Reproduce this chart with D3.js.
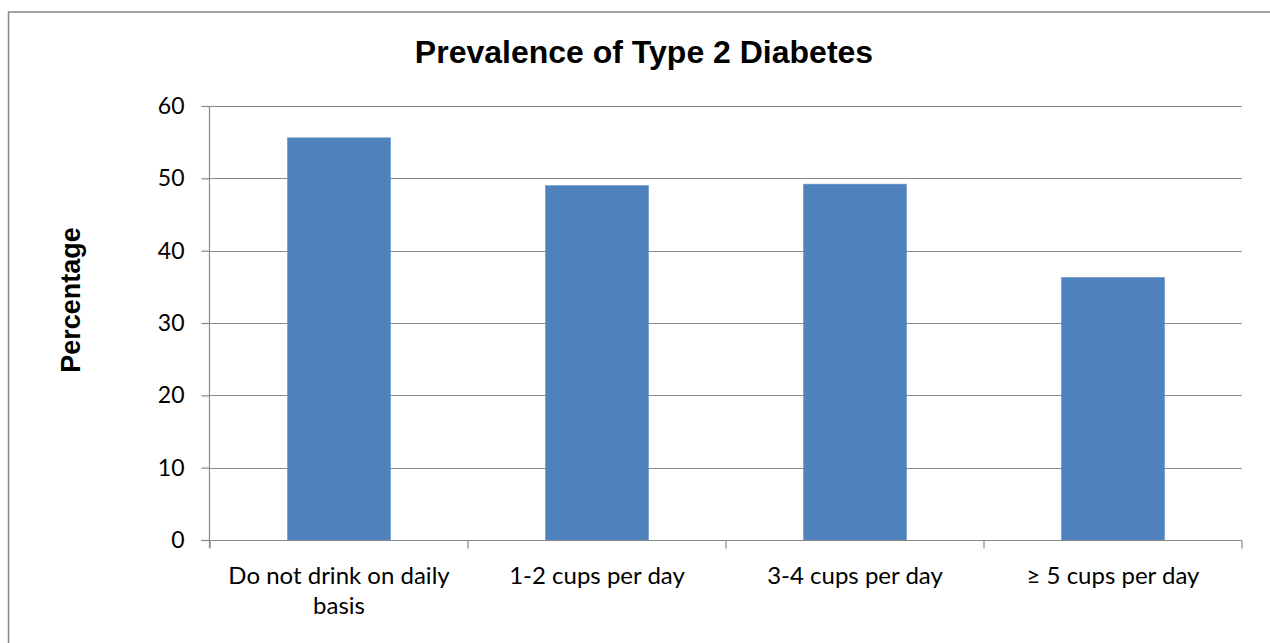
<!DOCTYPE html>
<html>
<head>
<meta charset="utf-8">
<script src="https://cdn.jsdelivr.net/npm/d3@7"></script>
<style>
  html, body { margin: 0; padding: 0; background: #fff; }
  svg { display: block; }
</style>
</head>
<body>
<svg id="chart" width="1270" height="643"></svg>
<script>
// Prevalence of type 2 diabetes by daily consumption
const categories = ["Do not drink on daily basis", "1-2 cups per day", "3-4 cups per day", "\u2265 5 cups per day"];
const prevalence = [55.6, 49.0, 49.2, 36.3];
const yTicks = [0, 10, 20, 30, 40, 50, 60];
const chartTitle = "Prevalence of Type 2 Diabetes";
const yTitle = "Percentage";

const svg = d3.select("#chart");
const W = 1270, H = 643;
const plot = { left: 210, right: 1242, top: 106, bottom: 540 };
const gridColor = "#898989";
const labelFont = "Lato, 'Open Sans', sans-serif";
const boldFont = "'Liberation Sans', Arial, sans-serif";

// outer chart frame (runs off the right and bottom edges)
svg.append("rect")
  .attr("x", 8.5).attr("y", 12)
  .attr("width", W + 20).attr("height", H + 20)
  .attr("fill", "#fff")
  .attr("stroke", "#868686").attr("stroke-width", 1.5);

const x = d3.scaleBand()
  .domain(categories)
  .range([plot.left, plot.right])
  .paddingInner(0.6)
  .paddingOuter(0.3);

const y = d3.scaleLinear()
  .domain([0, 60])
  .range([plot.bottom, plot.top]);

// horizontal gridlines
svg.append("g")
  .selectAll("line")
  .data(yTicks.filter(d => d > 0))
  .join("line")
  .attr("x1", plot.left).attr("x2", plot.right)
  .attr("y1", d => Math.round(y(d)) + 0.5).attr("y2", d => Math.round(y(d)) + 0.5)
  .attr("stroke", gridColor).attr("stroke-width", 1.2);

// bars
svg.append("g")
  .selectAll("rect")
  .data(categories.map((c, i) => ({ c, v: prevalence[i] })))
  .join("rect")
  .attr("x", d => x(d.c))
  .attr("y", d => y(d.v))
  .attr("width", x.bandwidth())
  .attr("height", d => y(0) - y(d.v))
  .attr("fill", "#4F81BD")
  .attr("stroke", "#6f98c9").attr("stroke-width", 0.6);

// y axis
const yAxis = d3.axisLeft(y)
  .tickValues(yTicks)
  .tickSize(8)
  .tickPadding(17)
  .tickFormat(d3.format("d"));
const gy = svg.append("g")
  .attr("transform", `translate(${plot.left - 0.5},0)`)
  .call(yAxis);
gy.select(".domain").attr("d", `M0,${plot.top}V${plot.bottom + 8}`);
gy.selectAll("path, line").attr("stroke", gridColor).attr("stroke-width", 1.2);
gy.selectAll("text")
  .attr("font-family", labelFont)
  .attr("font-size", 23)
  .attr("fill", "#000");

// x axis: ticks mark category boundaries
const gx = svg.append("g")
  .attr("transform", `translate(0,${plot.bottom + 0.5})`);
gx.append("line")
  .attr("x1", plot.left - 9).attr("x2", plot.right)
  .attr("stroke", gridColor).attr("stroke-width", 1.2);
const bounds = categories.map(c => x(c) - x.step() * x.paddingInner() / 2)
  .concat([plot.right]);
bounds[0] = plot.left;
gx.selectAll("line.tick")
  .data(bounds)
  .join("line")
  .attr("class", "tick")
  .attr("x1", d => d).attr("x2", d => d)
  .attr("y1", 0).attr("y2", 8)
  .attr("stroke", gridColor).attr("stroke-width", 1.2);

// category labels, wrapped to the band width
const catLabels = gx.selectAll("text.cat")
  .data(categories)
  .join("text")
  .attr("class", "cat")
  .attr("x", d => x(d) + x.bandwidth() / 2)
  .attr("y", 43)
  .attr("text-anchor", "middle")
  .attr("font-family", labelFont)
  .attr("font-size", 24)
  .attr("fill", "#000");

catLabels.each(function (d) {
  const t = d3.select(this);
  const words = d.split(" ");
  const cx = +t.attr("x");
  let line = [];
  let tspan = t.append("tspan").attr("x", cx).attr("dy", 0);
  for (const w of words) {
    line.push(w);
    tspan.text(line.join(" "));
    if (tspan.node().getComputedTextLength() > 245 && line.length > 1) {
      line.pop();
      tspan.text(line.join(" "));
      line = [w];
      tspan = t.append("tspan").attr("x", cx).attr("dy", 30).text(w);
    }
  }
});

// chart title
svg.append("text")
  .attr("x", 644).attr("y", 63)
  .attr("text-anchor", "middle")
  .attr("font-family", boldFont)
  .attr("font-weight", "bold")
  .attr("font-size", 32)
  .attr("fill", "#000")
  .text(chartTitle);

// y axis title
svg.append("text")
  .attr("transform", "translate(80,300) rotate(-90)")
  .attr("text-anchor", "middle")
  .attr("font-family", boldFont)
  .attr("font-weight", "bold")
  .attr("font-size", 27)
  .attr("fill", "#000")
  .text(yTitle);
</script>
</body>
</html>
